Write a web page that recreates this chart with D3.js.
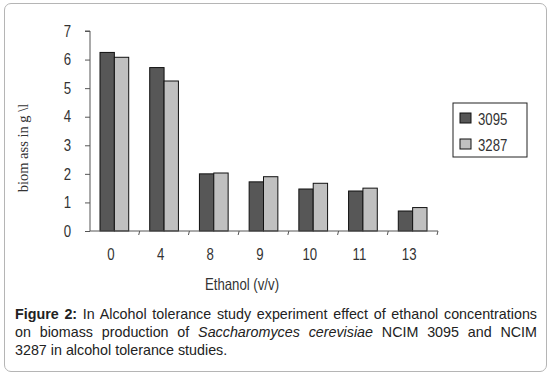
<!DOCTYPE html>
<html>
<head>
<meta charset="utf-8">
<script src="https://cdn.jsdelivr.net/npm/d3@7"></script>
<style>
  body { margin: 0; background: #fff; }
  #frame { position: absolute; left: 4px; top: 3px; width: 541px; height: 367px;
           border: 1px solid #b5b5b5; border-radius: 7px; }
  #caption { position: absolute; left: 15px; top: 305px; width: 522px;
             font: 14.3px "Liberation Sans", Arial, sans-serif; line-height: 18px; color: #222; }
  #caption div { white-space: nowrap; }
  #caption .j { text-align: justify; text-align-last: justify; white-space: normal; }
</style>
</head>
<body>
<div id="frame"></div>
<svg id="chart" width="551" height="300" style="position:absolute;left:0;top:0"></svg>
<div id="caption">
  <div class="j"><b>Figure 2:</b> In Alcohol tolerance study experiment effect of ethanol concentrations</div>
  <div class="j">on biomass production of <i>Saccharomyces cerevisiae</i> NCIM 3095 and NCIM</div>
  <div>3287 in alcohol tolerance studies.</div>
</div>
<script>
const categories  = ['0', '4', '8', '9', '10', '11', '13'];
const seriesNames = ['3095', '3287'];
const s3095       = [6.25, 5.72, 2.0, 1.72, 1.47, 1.4, 0.7];
const s3287       = [6.08, 5.25, 2.03, 1.9, 1.67, 1.5, 0.82];
const yTicks      = [0, 1, 2, 3, 4, 5, 6, 7];
const colors      = ['#575757', '#c0c0c0'];

const svg = d3.select('#chart');
const plotL = 90, plotR = 438, plotT = 31, plotB = 231;
const sans = '"Liberation Sans", Arial, sans-serif';
const sx = 0.8;      // squeeze the sans text, the original uses a narrow face
const fs = 16.5;

// squeeze a text element horizontally while keeping its x anchor
const narrowText = sel => sel.each(function() {
  const t = d3.select(this);
  t.attr('x', (+t.attr('x') || 0) / sx)
   .attr('transform', `scale(${sx},1)`)
   .attr('font-family', sans).attr('font-size', fs).attr('fill', '#333');
});

const x = d3.scaleBand().domain(categories).range([plotL, plotR]).paddingInner(0);
const xs = d3.scaleBand().domain(seriesNames).range([10, x.bandwidth() - 11]);
const y = d3.scaleLinear().domain([0, 7]).range([plotB, plotT]);

const rows = categories.map((c, i) => ({ cat: c, vals: [s3095[i], s3287[i]] }));

// bars
svg.append('g').selectAll('g').data(rows).join('g')
    .attr('transform', d => `translate(${x(d.cat)},0)`)
  .selectAll('rect').data(d => d.vals.map((v, j) => ({ v, name: seriesNames[j], j })))
  .join('rect')
    .attr('x', d => xs(d.name))
    .attr('y', d => y(d.v))
    .attr('width', xs.bandwidth())
    .attr('height', d => y(0) - y(d.v))
    .attr('fill', d => colors[d.j])
    .attr('stroke', '#111')
    .attr('stroke-width', 1);

// y axis
const yAxis = svg.append('g')
    .attr('transform', `translate(${plotL},0)`)
    .call(d3.axisLeft(y).tickValues(yTicks).tickSize(5).tickPadding(14).tickFormat(d3.format('d')));
yAxis.select('.domain').attr('stroke', '#555').attr('d', `M-5,${plotT}H0V${plotB}`);
yAxis.selectAll('.tick line').attr('stroke', '#555');
yAxis.selectAll('text').call(narrowText);

// x axis
const xAxis = svg.append('g')
    .attr('transform', `translate(0,${plotB})`)
    .call(d3.axisBottom(x).tickSize(0).tickPadding(17));
xAxis.select('.domain').attr('stroke', '#555').attr('d', `M${plotL},0H${plotR}`);
xAxis.selectAll('text').attr('x', -4).call(narrowText);
svg.append('g').selectAll('line').data(categories).join('line')
    .attr('x1', d => x(d) + x.bandwidth() - 1).attr('x2', d => x(d) + x.bandwidth())
    .attr('y1', plotB + 4).attr('y2', plotB)
    .attr('stroke', '#555');

// axis titles
svg.append('text')
    .attr('x', 242).attr('y', 290)
    .attr('text-anchor', 'middle')
    .text('Ethanol (v/v)')
    .call(narrowText);
svg.append('text')
    .attr('transform', 'translate(28,148) rotate(-90)')
    .attr('text-anchor', 'middle')
    .attr('font-family', '"Liberation Serif", "Times New Roman", serif')
    .attr('font-size', 14.5).attr('fill', '#333')
    .text('biom ass in g \\l');

// legend
const lg = svg.append('g').attr('transform', 'translate(453,103)');
lg.append('rect').attr('width', 74).attr('height', 54)
    .attr('fill', '#fff').attr('stroke', '#222');
lg.selectAll('g').data(seriesNames).join('g')
    .attr('transform', (d, i) => `translate(7,${10 + i * 26})`)
    .call(g => {
      g.append('rect').attr('width', 11).attr('height', 10)
          .attr('fill', (d, i) => colors[i]).attr('stroke', '#111');
      g.append('text').attr('x', 18).attr('y', 12)
          .text(d => d)
          .call(narrowText);
    });
</script>
</body>
</html>
